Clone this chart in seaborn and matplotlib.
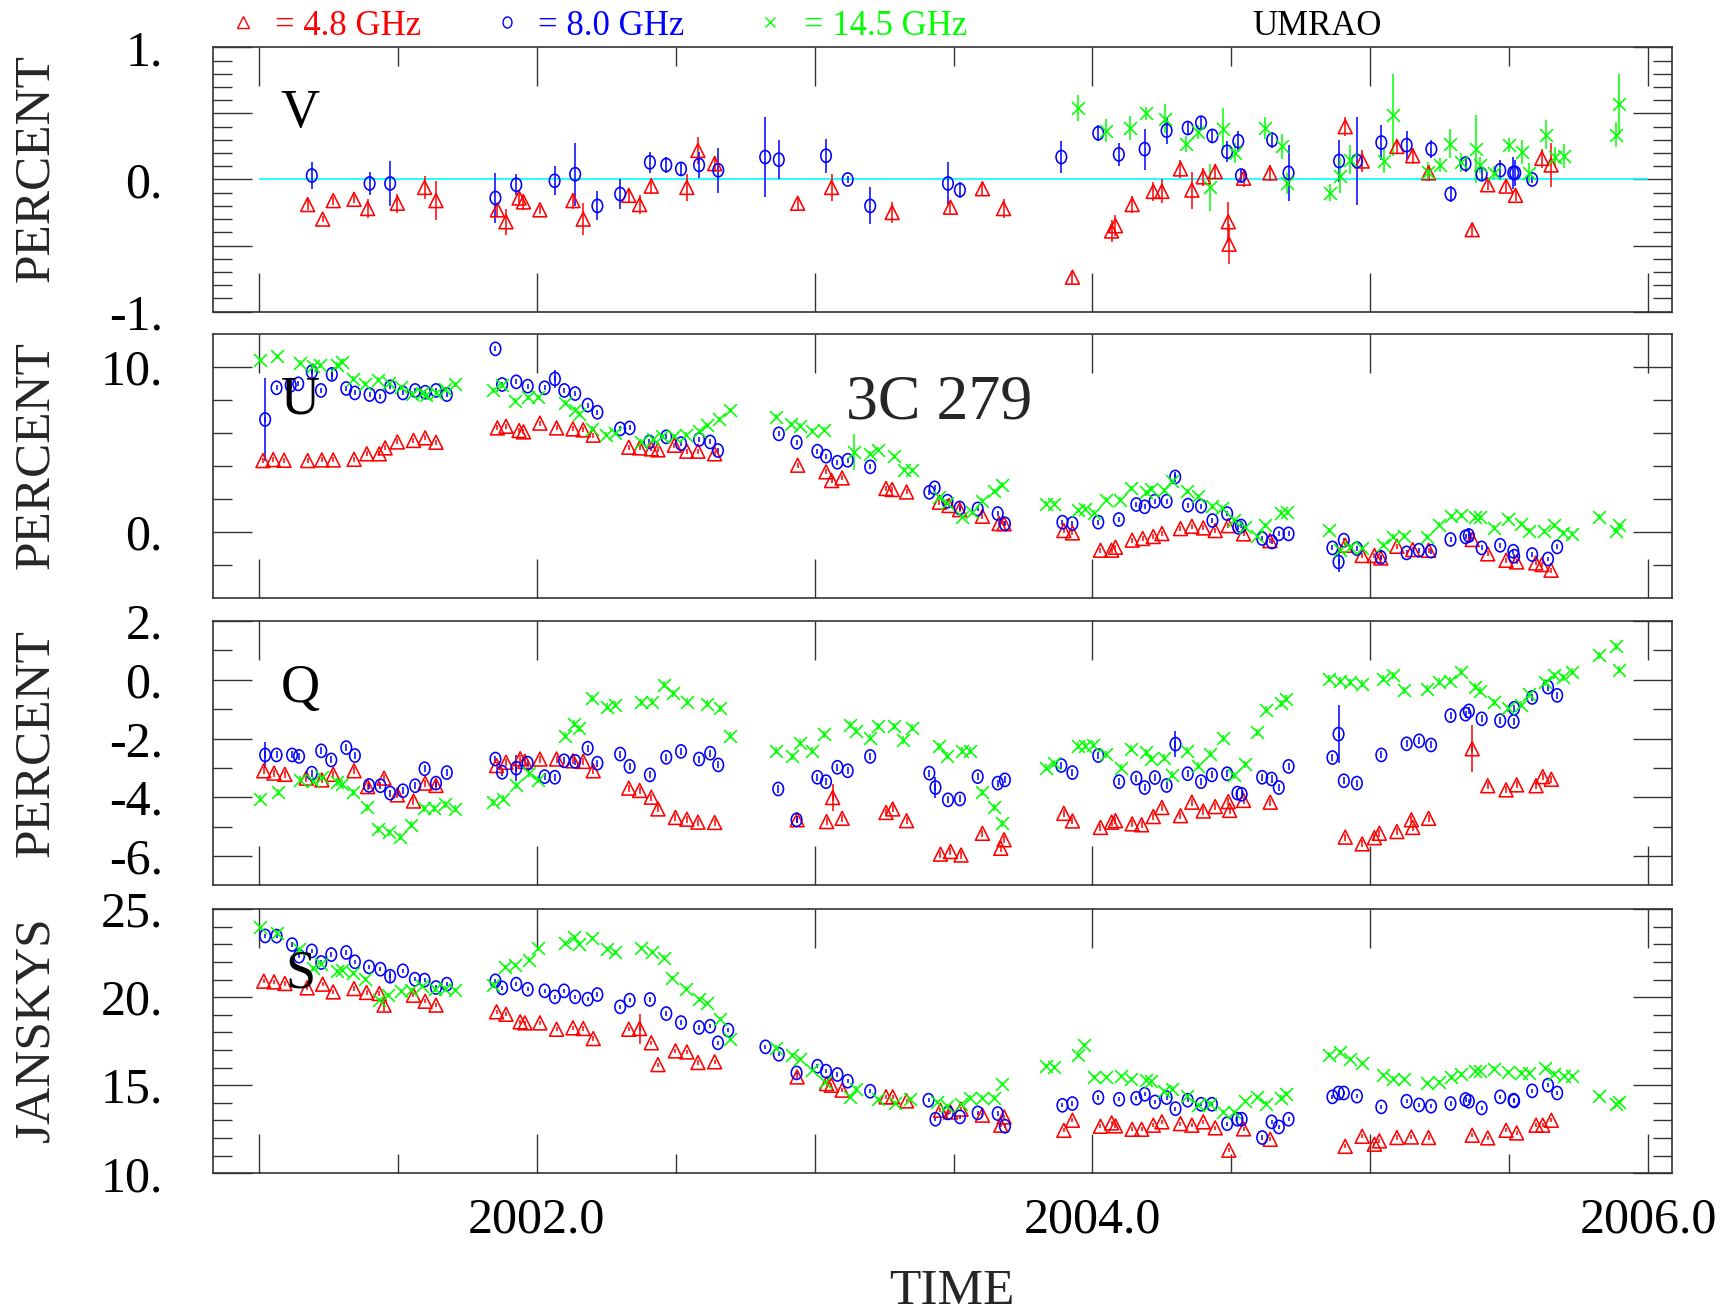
import numpy as np
import matplotlib
matplotlib.use('Agg')
import matplotlib.pyplot as plt
import seaborn as sns
from matplotlib.path import Path
from matplotlib.lines import Line2D
from matplotlib.ticker import FixedLocator, FixedFormatter, NullLocator

# ---------------- DATA (decimal year, value) ----------------
# V : circular polarization, percent
V_RED_T = [2001.175, 2001.229, 2001.267, 2001.342, 2001.391, 2001.498, 2001.596, 2001.637, 2001.858, 2001.889,
           2001.936, 2001.952, 2002.011, 2002.130, 2002.167, 2002.331, 2002.370, 2002.412, 2002.540, 2002.580,
           2002.640, 2002.939, 2003.061, 2003.279, 2003.489, 2003.604, 2003.680, 2003.928, 2004.069, 2004.083,
           2004.143, 2004.219, 2004.250, 2004.317, 2004.358, 2004.399, 2004.442, 2004.489, 2004.492, 2004.544,
           2004.639, 2004.910, 2004.971, 2005.096, 2005.153, 2005.210, 2005.367, 2005.423, 2005.489, 2005.523,
           2005.618, 2005.651]
V_RED = [-0.19, -0.30, -0.16, -0.15, -0.22, -0.18, -0.06, -0.16, -0.23, -0.32,
         -0.14, -0.17, -0.23, -0.16, -0.30, -0.12, -0.19, -0.05, -0.06, 0.22,
         0.12, -0.18, -0.06, -0.25, -0.21, -0.07, -0.22, -0.74, -0.39, -0.35,
         -0.19, -0.09, -0.09, 0.08, -0.08, 0.02, 0.06, -0.32, -0.49, 0.01,
         0.05, 0.40, 0.14, 0.25, 0.18, 0.05, -0.38, -0.04, -0.05, -0.12,
         0.16, 0.11]
V_RED_ERR = [0.04, 0.025, 0.03, 0.03, 0.07, 0.07, 0.09, 0.15, 0.05, 0.10,
             0.04, 0.06, 0.03, 0.06, 0.12, 0.05, 0.07, 0.06, 0.10, 0.10,
             0.06, 0.05, 0.10, 0.08, 0.05, 0.05, 0.07, 0.05, 0.08, 0.08,
             0.065, 0.07, 0.09, 0.07, 0.14, 0.07, 0.06, 0.15, 0.15, 0.07,
             0.06, 0.07, 0.08, 0.05, 0.06, 0.06, 0.05, 0.04, 0.045, 0.04,
             0.07, 0.17]
V_BLUE_T = [2001.190, 2001.398, 2001.472, 2001.851, 2001.926, 2002.064, 2002.138, 2002.218, 2002.300, 2002.407,
            2002.466, 2002.519, 2002.584, 2002.653, 2002.822, 2002.871, 2003.041, 2003.119, 2003.200,
            2003.480, 2003.523, 2003.888, 2004.021, 2004.095, 2004.188, 2004.267, 2004.343, 2004.391, 2004.432,
            2004.485, 2004.525, 2004.535, 2004.647, 2004.706, 2004.888, 2004.952, 2005.040, 2005.131, 2005.220,
            2005.289, 2005.343, 2005.401, 2005.468, 2005.515, 2005.522, 2005.583]
V_BLUE = [0.03, -0.03, -0.03, -0.14, -0.04, -0.01, 0.04, -0.20, -0.11, 0.13,
          0.11, 0.08, 0.11, 0.07, 0.17, 0.15, 0.18, 0.00, -0.20,
          -0.03, -0.08, 0.17, 0.35, 0.19, 0.23, 0.37, 0.39, 0.43, 0.33,
          0.21, 0.29, 0.03, 0.30, 0.05, 0.14, 0.14, 0.28, 0.26, 0.23,
          -0.11, 0.12, 0.04, 0.07, 0.05, 0.05, 0.00]
V_BLUE_ERR = [0.10, 0.09, 0.17, 0.19, 0.08, 0.11, 0.24, 0.11, 0.11, 0.08,
              0.06, 0.05, 0.10, 0.17, 0.30, 0.15, 0.13, 0.025, 0.14,
              0.16, 0.06, 0.12, 0.06, 0.085, 0.155, 0.10, 0.045, 0.05, 0.045,
              0.08, 0.08, 0.05, 0.06, 0.21, 0.16, 0.33, 0.13, 0.11, 0.07,
              0.06, 0.06, 0.055, 0.075, 0.12, 0.10, 0.03]
V_GREEN_T = [2003.948, 2004.050, 2004.136, 2004.194, 2004.260, 2004.337, 2004.380, 2004.425, 2004.470, 2004.515,
             2004.623, 2004.683, 2004.700, 2004.854, 2004.890, 2004.929, 2005.048, 2005.083, 2005.208, 2005.250,
             2005.287, 2005.325, 2005.379, 2005.396, 2005.446, 2005.499, 2005.546, 2005.571, 2005.633, 2005.666,
             2005.699, 2005.885, 2005.897]
V_GREEN = [0.54, 0.37, 0.39, 0.50, 0.46, 0.27, 0.36, -0.06, 0.38, 0.20,
           0.39, 0.25, -0.03, -0.10, 0.03, 0.15, 0.14, 0.49, 0.06, 0.11,
           0.27, 0.13, 0.23, 0.11, 0.05, 0.26, 0.21, 0.05, 0.34, 0.17,
           0.18, 0.34, 0.57]
V_GREEN_ERR = [0.10, 0.085, 0.09, 0.05, 0.11, 0.06, 0.05, 0.18, 0.16, 0.075,
               0.085, 0.095, 0.08, 0.065, 0.13, 0.11, 0.09, 0.31, 0.075, 0.055,
               0.11, 0.07, 0.26, 0.06, 0.05, 0.055, 0.09, 0.075, 0.11, 0.075,
               0.09, 0.095, 0.23]

# U : percent
U_RED_T = [2001.014, 2001.051, 2001.090, 2001.175, 2001.226, 2001.267, 2001.342, 2001.388, 2001.433, 2001.454,
           2001.498, 2001.556, 2001.598, 2001.637, 2001.858, 2001.889, 2001.936, 2001.952, 2002.011, 2002.071,
           2002.130, 2002.167, 2002.203, 2002.331, 2002.370, 2002.412, 2002.436, 2002.495, 2002.540, 2002.580,
           2002.640, 2002.939, 2003.041, 2003.061, 2003.099, 2003.257, 2003.279, 2003.331,
           2003.449, 2003.484, 2003.522, 2003.604, 2003.664, 2003.682, 2003.897, 2003.928,
           2004.029, 2004.069, 2004.083, 2004.143, 2004.181, 2004.219, 2004.250, 2004.317, 2004.358, 2004.399,
           2004.442, 2004.489, 2004.544, 2004.639, 2004.910, 2004.971,
           2005.015, 2005.038, 2005.096, 2005.153, 2005.210, 2005.367, 2005.423, 2005.489, 2005.527, 2005.596,
           2005.618, 2005.651]
U_RED = [4.34, 4.40, 4.36, 4.34, 4.38, 4.38, 4.42, 4.75, 4.75, 5.11,
         5.47, 5.56, 5.72, 5.45, 6.32, 6.42, 6.16, 6.08, 6.61, 6.32,
         6.26, 6.20, 5.88, 5.15, 5.11, 5.05, 4.99, 5.27, 4.91, 4.91,
         4.75, 4.06, 3.66, 3.13, 3.29, 2.65, 2.59, 2.44,
         1.82, 1.62, 1.37, 0.97, 0.53, 0.51, 0.10, -0.04,
         -1.09, -1.09, -0.91, -0.48, -0.38, -0.26, -0.08, 0.22, 0.36, 0.26,
         0.10, 0.40, -0.10, -0.51, -0.79, -1.41,
         -1.41, -1.56, -0.85, -1.05, -1.09, -0.44, -1.31, -1.70, -1.80, -1.86,
         -1.96, -2.30]
U_BLUE_T = [2001.022, 2001.063, 2001.114, 2001.141, 2001.190, 2001.223, 2001.262, 2001.314, 2001.345, 2001.398,
            2001.437, 2001.472, 2001.518, 2001.562, 2001.598, 2001.637, 2001.676, 2001.851, 2001.875, 2001.926,
            2001.967, 2002.028, 2002.065, 2002.099, 2002.138, 2002.183, 2002.218, 2002.300, 2002.334, 2002.405,
            2002.466, 2002.519, 2002.584, 2002.624, 2002.652, 2002.871, 2002.935, 2003.010, 2003.041, 2003.082,
            2003.119, 2003.200, 2003.413,
            2003.432, 2003.478, 2003.522, 2003.587, 2003.659, 2003.685, 2003.892, 2003.928, 2004.021, 2004.095,
            2004.158, 2004.188, 2004.224, 2004.267, 2004.298, 2004.344, 2004.391, 2004.432, 2004.485, 2004.525,
            2004.535, 2004.611, 2004.646, 2004.671, 2004.706, 2004.864, 2004.886, 2004.905, 2004.952, 2005.038,
            2005.131, 2005.175, 2005.219, 2005.289, 2005.343, 2005.355, 2005.401, 2005.468, 2005.515, 2005.518,
            2005.583, 2005.640, 2005.673]
U_BLUE = [6.83, 8.75, 8.91, 8.99, 9.72, 8.59, 9.56, 8.71, 8.44, 8.34,
          8.24, 8.81, 8.44, 8.59, 8.48, 8.59, 8.34, 11.11, 8.95, 9.11,
          8.85, 8.75, 9.29, 8.59, 8.40, 7.70, 7.27, 6.26, 6.32, 5.47,
          5.78, 5.37, 5.62, 5.47, 4.95, 5.96, 5.45, 4.91, 4.61, 4.24,
          4.36, 3.96, 2.42,
          2.69, 1.88, 1.47, 1.41, 1.13, 0.51, 0.61, 0.53, 0.61, 0.77,
          1.68, 1.54, 1.88, 1.88, 3.35, 1.64, 1.58, 0.71, 1.13, 0.30,
          0.38, -0.38, -0.59, -0.10, -0.10, -0.95, -1.80, -0.48, -0.99, -1.52,
          -1.25, -1.09, -1.15, -0.44, -0.28, -0.20, -0.95, -0.79, -1.15, -1.45,
          -1.35, -1.62, -0.89]
U_GREEN_T = [2001.005, 2001.065, 2001.148, 2001.195, 2001.221, 2001.280, 2001.297, 2001.340, 2001.382, 2001.430,
             2001.467, 2001.510, 2001.552, 2001.586, 2001.600, 2001.637, 2001.671, 2001.705, 2001.841, 2001.875,
             2001.923, 2001.969, 2002.003, 2002.101, 2002.138, 2002.150, 2002.198, 2002.249, 2002.283, 2002.376,
             2002.418, 2002.452, 2002.495, 2002.538, 2002.584, 2002.614, 2002.657, 2002.694, 2002.861, 2002.915,
             2002.946, 2002.991, 2003.034, 2003.141, 2003.200, 2003.229, 2003.285, 2003.323, 2003.349,
             2003.449, 2003.475, 2003.530, 2003.565, 2003.604, 2003.644, 2003.676, 2003.833, 2003.862, 2003.948,
             2003.974, 2004.005, 2004.048, 2004.100, 2004.138, 2004.194, 2004.212, 2004.258, 2004.287, 2004.339,
             2004.379, 2004.430, 2004.468, 2004.511, 2004.551, 2004.594, 2004.623, 2004.680, 2004.702, 2004.852,
             2004.890, 2004.929, 2004.969, 2005.045, 2005.081, 2005.122, 2005.205, 2005.248, 2005.289, 2005.327,
             2005.377, 2005.394, 2005.446, 2005.497, 2005.544, 2005.571, 2005.627, 2005.661, 2005.695, 2005.726,
             2005.824, 2005.885, 2005.897]
U_GREEN = [10.46, 10.67, 10.26, 10.10, 10.12, 10.16, 10.32, 9.29, 8.99, 9.25,
           9.05, 8.79, 8.40, 8.44, 8.30, 8.44, 8.65, 8.95, 8.61, 8.89,
           7.98, 8.18, 8.18, 7.84, 7.43, 7.17, 6.28, 5.92, 6.02, 5.47,
           5.62, 5.82, 5.82, 5.92, 6.12, 6.48, 6.83, 7.39, 6.99, 6.53,
           6.46, 6.16, 6.22, 4.85, 4.75, 5.01, 4.61, 3.80, 3.76,
           2.12, 1.78, 0.93, 1.21, 1.92, 2.48, 2.89, 1.74, 1.74, 1.33,
           1.43, 1.17, 1.98, 1.98, 2.65, 2.42, 2.63, 2.55, 3.09, 2.48,
           2.18, 1.58, 1.47, 0.77, 0.30, -0.24, 0.42, 1.17, 1.21, 0.12,
           -1.09, -0.89, -0.95, -0.75, -0.28, -0.20, -0.28, 0.46, 0.97, 1.03,
           0.91, 0.91, 0.26, 0.81, 0.51, 0.10, 0.06, 0.42, -0.04, -0.08,
           0.93, 0.10, 0.42]

# Q : percent
Q_RED_T = [2001.017, 2001.054, 2001.093, 2001.170, 2001.226, 2001.267, 2001.342, 2001.391, 2001.450, 2001.498,
           2001.556, 2001.598, 2001.637, 2001.855, 2001.889, 2001.940, 2001.957, 2002.011, 2002.071, 2002.130,
           2002.167, 2002.203, 2002.331, 2002.370, 2002.412, 2002.436, 2002.499, 2002.540, 2002.580, 2002.640,
           2002.937, 2003.043, 2003.065, 2003.099, 2003.257, 2003.281, 2003.331,
           2003.453, 2003.489, 2003.527, 2003.604, 2003.670, 2003.682, 2003.897, 2003.928, 2004.029, 2004.069,
           2004.083, 2004.143, 2004.177, 2004.219, 2004.250, 2004.317, 2004.358, 2004.399, 2004.442, 2004.489,
           2004.494, 2004.544, 2004.640, 2004.910, 2004.971, 2005.015, 2005.033, 2005.096, 2005.148, 2005.153,
           2005.210, 2005.367, 2005.423, 2005.489, 2005.527, 2005.597, 2005.621, 2005.652]
Q_RED = [-3.10, -3.18, -3.22, -3.35, -3.41, -3.22, -3.10, -3.64, -3.35, -3.92,
         -4.13, -3.52, -3.60, -2.92, -2.81, -2.69, -2.78, -2.70, -2.70, -2.76,
         -2.78, -3.10, -3.69, -3.77, -4.00, -4.40, -4.69, -4.75, -4.85, -4.86,
         -4.77, -4.83, -4.01, -4.72, -4.52, -4.40, -4.80,
         -5.94, -5.85, -5.97, -5.23, -5.74, -5.45, -4.55, -4.81, -5.03, -4.85,
         -4.80, -4.91, -4.94, -4.66, -4.35, -4.63, -4.17, -4.47, -4.32, -4.15,
         -4.45, -4.11, -4.17, -5.36, -5.59, -5.38, -5.23, -5.17, -4.77, -5.03,
         -4.72, -2.35, -3.61, -3.75, -3.58, -3.61, -3.30, -3.39]
Q_BLUE_T = [2001.022, 2001.063, 2001.119, 2001.144, 2001.190, 2001.224, 2001.260, 2001.314, 2001.345, 2001.396,
            2001.437, 2001.472, 2001.518, 2001.562, 2001.596, 2001.637, 2001.676, 2001.851, 2001.875, 2001.926,
            2001.967, 2002.028, 2002.065, 2002.098, 2002.138, 2002.183, 2002.218, 2002.300, 2002.334, 2002.407,
            2002.466, 2002.519, 2002.584, 2002.624, 2002.653, 2002.869, 2002.935, 2003.010, 2003.041, 2003.082,
            2003.119, 2003.200, 2003.413, 2003.435,
            2003.480, 2003.523, 2003.587, 2003.659, 2003.685, 2003.888, 2003.928, 2004.021, 2004.096, 2004.158,
            2004.188, 2004.225, 2004.267, 2004.299, 2004.343, 2004.391, 2004.430, 2004.485, 2004.522, 2004.537,
            2004.611, 2004.645, 2004.671, 2004.706, 2004.864, 2004.886, 2004.905, 2004.952, 2005.040, 2005.131,
            2005.176, 2005.219, 2005.289, 2005.343, 2005.355, 2005.401, 2005.468, 2005.516, 2005.518, 2005.583,
            2005.640, 2005.673]
Q_BLUE = [-2.56, -2.56, -2.56, -2.61, -3.18, -2.42, -2.73, -2.31, -2.58, -3.60,
          -3.61, -3.86, -3.78, -3.61, -3.03, -3.52, -3.16, -2.70, -3.15, -3.01,
          -2.84, -3.30, -3.32, -2.76, -2.78, -2.33, -2.84, -2.53, -2.95, -3.24,
          -2.64, -2.44, -2.70, -2.50, -2.90, -3.72, -4.77, -3.32, -3.47, -2.98,
          -3.10, -2.61, -3.18, -3.67,
          -4.09, -4.06, -3.30, -3.52, -3.41, -2.92, -3.16, -2.58, -3.47, -3.35,
          -3.67, -3.33, -3.60, -2.19, -3.20, -3.47, -3.24, -3.20, -3.86, -3.90,
          -3.32, -3.38, -3.67, -2.95, -2.65, -1.85, -3.44, -3.52, -2.56, -2.18,
          -2.08, -2.22, -1.22, -1.17, -1.06, -1.33, -1.39, -1.42, -0.97, -0.60,
          -0.25, -0.53]
Q_GREEN_T = [2001.005, 2001.068, 2001.148, 2001.195, 2001.226, 2001.280, 2001.297, 2001.340, 2001.387, 2001.430,
             2001.467, 2001.506, 2001.547, 2001.595, 2001.629, 2001.668, 2001.705, 2001.841, 2001.880, 2001.926,
             2001.972, 2002.003, 2002.101, 2002.135, 2002.152, 2002.198, 2002.253, 2002.283, 2002.376, 2002.413,
             2002.456, 2002.490, 2002.541, 2002.614, 2002.660, 2002.694, 2002.861, 2002.917, 2002.949, 2002.991,
             2003.034, 2003.127, 2003.149, 2003.200, 2003.229, 2003.285, 2003.319, 2003.349,
             2003.449, 2003.475, 2003.530, 2003.558, 2003.604, 2003.644, 2003.676, 2003.833, 2003.862, 2003.948,
             2003.974, 2004.003, 2004.048, 2004.103, 2004.138, 2004.194, 2004.212, 2004.258, 2004.287, 2004.339,
             2004.379, 2004.425, 2004.470, 2004.511, 2004.551, 2004.594, 2004.625, 2004.680, 2004.697, 2004.852,
             2004.890, 2004.929, 2004.969, 2005.045, 2005.081, 2005.122, 2005.205, 2005.248, 2005.286, 2005.325,
             2005.377, 2005.394, 2005.446, 2005.497, 2005.544, 2005.571, 2005.630, 2005.661, 2005.695, 2005.725,
             2005.824, 2005.885, 2005.897]
Q_GREEN = [-4.06, -3.83, -3.41, -3.44, -3.30, -3.49, -3.55, -3.83, -4.35, -5.09,
           -5.20, -5.34, -4.94, -4.38, -4.38, -4.24, -4.40, -4.17, -4.06, -3.60,
           -3.18, -3.41, -1.91, -1.50, -1.65, -0.63, -0.91, -0.85, -0.76, -0.74,
           -0.17, -0.45, -0.74, -0.82, -0.97, -1.91, -2.42, -2.61, -2.14, -2.42,
           -1.85, -1.53, -1.73, -1.97, -1.59, -1.59, -2.05, -1.63,
           -2.27, -2.58, -2.42, -2.42, -3.83, -4.35, -4.89, -2.99, -2.84, -2.24,
           -2.25, -2.22, -2.53, -2.99, -2.35, -2.47, -2.69, -2.65, -3.24, -2.42,
           -2.92, -2.52, -1.99, -3.26, -2.88, -1.78, -1.02, -0.80, -0.65, 0.03,
           -0.03, -0.08, -0.14, 0.03, 0.15, -0.36, -0.31, -0.06, -0.03, 0.28,
           -0.23, -0.38, -0.76, -0.97, -0.85, -0.49, -0.08, 0.15, 0.09, 0.28,
           0.83, 1.14, 0.34]

# S : flux density, Jy
S_RED_T = [2001.017, 2001.054, 2001.093, 2001.173, 2001.229, 2001.267, 2001.342, 2001.387, 2001.433, 2001.450,
           2001.556, 2001.598, 2001.637, 2001.855, 2001.889, 2001.940, 2001.957, 2002.011, 2002.071, 2002.130,
           2002.167, 2002.203, 2002.331, 2002.370, 2002.412, 2002.436, 2002.499, 2002.540, 2002.580, 2002.640,
           2002.937, 2003.043, 2003.060, 2003.099, 2003.257, 2003.281, 2003.331,
           2003.453, 2003.489, 2003.527, 2003.604, 2003.670, 2003.682, 2003.897, 2003.928, 2004.029, 2004.069,
           2004.083, 2004.143, 2004.177, 2004.219, 2004.250, 2004.317, 2004.358, 2004.399, 2004.442, 2004.491,
           2004.544, 2004.640, 2004.910, 2004.971, 2005.015, 2005.033, 2005.096, 2005.148, 2005.210, 2005.367,
           2005.423, 2005.489, 2005.527, 2005.597, 2005.621, 2005.652]
S_RED = [20.91, 20.87, 20.78, 20.53, 20.74, 20.30, 20.49, 20.27, 20.21, 19.55,
         20.11, 19.77, 19.55, 19.17, 19.03, 18.60, 18.54, 18.54, 18.18, 18.26,
         18.22, 17.65, 18.18, 18.22, 17.41, 16.17, 16.95, 16.89, 16.29, 16.33,
         15.47, 15.09, 15.00, 14.72, 14.34, 14.34, 14.11,
         13.58, 13.48, 13.64, 13.30, 12.73, 13.20, 12.44, 13.01, 12.67, 12.86,
         12.69, 12.50, 12.50, 12.73, 12.92, 12.82, 12.73, 12.92, 12.58, 11.31,
         12.52, 11.93, 11.53, 12.10, 11.65, 11.84, 12.03, 12.06, 12.03, 12.16,
         12.01, 12.44, 12.29, 12.73, 12.73, 13.01]
S_BLUE_T = [2001.022, 2001.063, 2001.119, 2001.144, 2001.190, 2001.224, 2001.260, 2001.314, 2001.345, 2001.396,
            2001.437, 2001.472, 2001.518, 2001.561, 2001.596, 2001.637, 2001.676, 2001.851, 2001.875, 2001.926,
            2001.967, 2002.028, 2002.065, 2002.098, 2002.138, 2002.183, 2002.218, 2002.300, 2002.334, 2002.407,
            2002.466, 2002.519, 2002.584, 2002.624, 2002.652, 2002.689, 2002.823, 2002.871, 2002.935, 2003.010,
            2003.041, 2003.082, 2003.119, 2003.200, 2003.410, 2003.435,
            2003.480, 2003.523, 2003.587, 2003.659, 2003.685, 2003.892, 2003.928, 2004.021, 2004.096, 2004.158,
            2004.188, 2004.225, 2004.267, 2004.299, 2004.343, 2004.391, 2004.430, 2004.485, 2004.522, 2004.537,
            2004.611, 2004.645, 2004.671, 2004.706, 2004.864, 2004.886, 2004.905, 2004.952, 2005.040, 2005.131,
            2005.176, 2005.219, 2005.289, 2005.343, 2005.355, 2005.401, 2005.468, 2005.516, 2005.518, 2005.583,
            2005.640, 2005.673]
S_BLUE = [23.48, 23.47, 22.99, 22.33, 22.63, 21.97, 22.42, 22.54, 22.01, 21.72,
          21.59, 21.19, 21.50, 21.02, 20.97, 20.55, 20.74, 20.93, 20.53, 20.74,
          20.45, 20.36, 20.02, 20.36, 20.02, 19.89, 20.15, 19.45, 19.83, 19.87,
          19.07, 18.56, 18.28, 18.35, 17.41, 18.13, 17.18, 16.76, 15.70, 16.08,
          15.80, 15.61, 15.23, 14.66, 14.15, 13.07,
          13.43, 13.20, 13.43, 13.39, 12.67, 13.86, 13.96, 14.30, 14.20, 14.26,
          14.49, 14.05, 14.30, 13.67, 14.15, 13.92, 13.92, 12.82, 13.07, 13.07,
          12.03, 12.92, 12.63, 13.07, 14.34, 14.56, 14.56, 14.38, 13.77, 14.09,
          13.88, 13.81, 13.96, 14.19, 14.09, 13.71, 14.34, 14.15, 14.11, 14.68,
          15.00, 14.56]
S_GREEN_T = [2001.005, 2001.065, 2001.144, 2001.195, 2001.224, 2001.280, 2001.297, 2001.340, 2001.382, 2001.433,
             2001.464, 2001.510, 2001.547, 2001.586, 2001.632, 2001.668, 2001.705, 2001.841, 2001.884, 2001.923,
             2001.972, 2002.003, 2002.101, 2002.135, 2002.152, 2002.198, 2002.253, 2002.283, 2002.376, 2002.413,
             2002.456, 2002.487, 2002.538, 2002.585, 2002.614, 2002.660, 2002.694, 2002.861, 2002.920, 2002.946,
             2002.991, 2003.039, 2003.127, 2003.149, 2003.229, 2003.289, 2003.345,
             2003.441, 2003.475, 2003.527, 2003.558, 2003.604, 2003.644, 2003.676, 2003.833, 2003.862, 2003.948,
             2003.971, 2004.005, 2004.048, 2004.103, 2004.138, 2004.194, 2004.212, 2004.258, 2004.287, 2004.339,
             2004.379, 2004.425, 2004.470, 2004.511, 2004.551, 2004.594, 2004.625, 2004.680, 2004.697, 2004.852,
             2004.890, 2004.929, 2004.969, 2005.045, 2005.081, 2005.122, 2005.205, 2005.248, 2005.289, 2005.327,
             2005.377, 2005.394, 2005.446, 2005.497, 2005.544, 2005.571, 2005.630, 2005.661, 2005.699, 2005.726,
             2005.824, 2005.885, 2005.897]
S_GREEN = [24.00, 23.67, 22.71, 21.63, 21.91, 21.50, 21.53, 21.38, 21.02, 19.83,
           20.11, 20.36, 20.40, 20.63, 20.44, 20.49, 20.40, 20.72, 21.72, 21.82,
           22.14, 22.77, 23.05, 23.43, 23.01, 23.37, 22.73, 22.54, 22.80, 22.58,
           22.25, 21.10, 20.49, 19.87, 19.68, 18.75, 17.65, 17.14, 16.70, 16.48,
           15.85, 15.19, 14.34, 14.81, 14.19, 14.00, 14.19,
           14.05, 13.81, 13.92, 14.30, 14.30, 14.30, 15.06, 16.10, 16.04, 16.74,
           17.27, 15.47, 15.47, 15.53, 15.34, 15.28, 15.25, 14.68, 14.81, 14.38,
           13.86, 13.96, 13.48, 13.48, 14.09, 14.34, 13.96, 14.30, 14.53, 16.74,
           16.86, 16.48, 16.27, 15.57, 15.38, 15.34, 15.13, 15.19, 15.44, 15.61,
           15.80, 15.80, 15.95, 15.76, 15.72, 15.72, 16.00, 15.66, 15.51, 15.53,
           14.38, 13.92, 14.05]

# typical (small) error half-widths for U, Q, S and the larger individual ones
U_ERR, Q_ERR, S_ERR = 0.15, 0.12, 0.12
U_BIG_BLUE = ([2001.022, 2001.190, 2001.262, 2002.065, 2004.298, 2004.886, 2005.355],
              [6.83, 9.72, 9.56, 9.29, 3.35, -1.80, -0.20], [2.5, 0.45, 0.35, 0.55, 0.3, 0.6, 0.45])
U_BIG_GREEN = ([2003.141], [4.85], [1.1])
Q_BIG_RED = ([2003.065, 2005.367], [-4.01, -2.35], [0.45, 0.8])
Q_BIG_BLUE = ([2001.022, 2001.926, 2003.435, 2004.299, 2004.886], [-2.56, -3.01, -3.67, -2.19, -1.85],
              [0.45, 0.45, 0.35, 0.45, 1.0])
S_BIG_RED = ([2001.450, 2002.370], [19.55, 18.22], [0.35, 0.85])
S_BIG_BLUE = ([2001.472], [21.19], [0.3])

YEAR_TICKS = [2001, 2002, 2003, 2004, 2005, 2006]
YEAR_LABELS = ['', '2002.0', '', '2004.0', '', '2006.0']
HALF_YEARS = [2001.5, 2002.5, 2003.5, 2004.5, 2005.5]
LEGEND_TEXT = ['= 4.8 GHz', '= 8.0 GHz', '= 14.5 GHz']

# ---------------- STYLE ----------------
sns.set_theme(style='white')
plt.rcParams['font.family'] = ['Liberation Serif', 'DejaVu Serif']
plt.rcParams['axes.unicode_minus'] = False

RED, BLUE, GREEN, CYAN = '#ff0000', '#0000ff', '#00ff00', '#00ffff'
FRAME = '#333333'
MLW = 1.15
circ = Path.unit_circle()
ELL = Path(circ.vertices * np.array([0.8, 1.0]), circ.codes)

fig = plt.figure(figsize=(17.26, 13.14), dpi=100)
L, W, H = 0.1232, 0.8453, 0.2010
bottoms = [0.7629, 0.5447, 0.3263, 0.1071]
axes = [fig.add_axes([L, b, W, H]) for b in bottoms]


def draw(ax, t, v, err, kind):
    col = {'r': RED, 'b': BLUE, 'g': GREEN}[kind]
    if err is not None:
        ax.errorbar(t, v, yerr=err, fmt='none', ecolor=col, elinewidth=1.1, capsize=0, zorder=2)
    if kind == 'r':
        sns.scatterplot(x=t, y=v, ax=ax, marker='^', s=100, facecolor='none', edgecolor=RED,
                        linewidth=MLW, zorder=3)
    elif kind == 'b':
        sns.scatterplot(x=t, y=v, ax=ax, marker=ELL, s=90, facecolor='none', edgecolor=BLUE,
                        linewidth=MLW, zorder=3)
    else:
        sns.scatterplot(x=t, y=v, ax=ax, marker='x', s=85, color=GREEN, linewidth=MLW, zorder=3)


def big(ax, data, col):
    ax.errorbar(data[0], data[1], yerr=data[2], fmt='none', ecolor=col, elinewidth=1.1, capsize=0, zorder=2)


axV, axU, axQ, axS = axes

axV.hlines(0, 2001.0, 2006.0, colors=CYAN, linewidth=1.2, zorder=1)
draw(axV, V_RED_T, V_RED, V_RED_ERR, 'r')
draw(axV, V_BLUE_T, V_BLUE, V_BLUE_ERR, 'b')
draw(axV, V_GREEN_T, V_GREEN, V_GREEN_ERR, 'g')

draw(axU, U_RED_T, U_RED, U_ERR, 'r')
draw(axU, U_BLUE_T, U_BLUE, U_ERR, 'b')
draw(axU, U_GREEN_T, U_GREEN, U_ERR, 'g')
big(axU, U_BIG_BLUE, BLUE)
big(axU, U_BIG_GREEN, GREEN)

draw(axQ, Q_RED_T, Q_RED, Q_ERR, 'r')
draw(axQ, Q_BLUE_T, Q_BLUE, Q_ERR, 'b')
draw(axQ, Q_GREEN_T, Q_GREEN, Q_ERR, 'g')
big(axQ, Q_BIG_RED, RED)
big(axQ, Q_BIG_BLUE, BLUE)

draw(axS, S_RED_T, S_RED, S_ERR, 'r')
draw(axS, S_BLUE_T, S_BLUE, S_ERR, 'b')
draw(axS, S_GREEN_T, S_GREEN, S_ERR, 'g')
big(axS, S_BIG_RED, RED)
big(axS, S_BIG_BLUE, BLUE)

ylims = [(-1, 1), (-4, 12), (-7, 2), (10, 25)]
ymaj = [[-1, -0.5, 0, 0.5, 1], [0, 10], [-6, -4, -2, 0, 2], [10, 15, 20, 25]]
ylab = [['-1.', '', '0.', '', '1.'], ['0.', '10.'], ['-6.', '-4.', '-2.', '0.', '2.'], ['10.', '15.', '20.', '25.']]
ymin = [[-0.9, -0.8, -0.7, -0.6, -0.4, -0.3, -0.2, -0.1, 0.1, 0.2, 0.3, 0.4, 0.6, 0.7, 0.8, 0.9],
        [-2, 2, 4, 6, 8],
        [-5, -3, -1, 1],
        [11, 12, 13, 14, 16, 17, 18, 19, 21, 22, 23, 24]]
letters = ['V', 'U', 'Q', 'S']
letter_y = [0.75, 0.748, 0.744, 0.754]

for i, ax in enumerate(axes):
    ax.set_xlim(2000.833, 2006.085)
    ax.set_ylim(*ylims[i])
    ax.set_xlabel('')
    ax.set_ylabel('')
    ax.xaxis.set_major_locator(FixedLocator(YEAR_TICKS))
    ax.xaxis.set_major_formatter(FixedFormatter(YEAR_LABELS))
    ax.yaxis.set_major_locator(FixedLocator(ymaj[i]))
    ax.yaxis.set_major_formatter(FixedFormatter(ylab[i]))
    ax.yaxis.set_minor_locator(FixedLocator(ymin[i]))
    if i == 0 or i == 3:
        ax.xaxis.set_minor_locator(FixedLocator(HALF_YEARS))
    else:
        ax.xaxis.set_minor_locator(NullLocator())
    ax.tick_params(axis='both', which='both', direction='in', colors=FRAME, width=1.0,
                   top=True, bottom=True, left=True, right=True, labelcolor='black')
    ax.tick_params(which='major', length=28)
    ax.tick_params(which='minor', length=14)
    ax.tick_params(axis='y', labelsize=36, pad=36)
    ax.tick_params(axis='x', labelsize=36, pad=17, labelbottom=(i == 3))
    if i == 0:
        ax.tick_params(axis='x', which='minor', top=True, bottom=False)
    if i == 3:
        ax.tick_params(axis='x', which='minor', top=False, bottom=True)
    for s in ax.spines.values():
        s.set_linewidth(1.2)
        s.set_color(FRAME)
    ax.text(0.06, letter_y[i], letters[i], transform=ax.transAxes, fontsize=39,
            ha='center', va='center', color='black')

axU.text(0.498, 0.736, '3C 279', transform=axU.transAxes, fontsize=46, ha='center', va='center')

# y-axis titles and x title
for yc, lab in zip([0.8721, 0.6537, 0.4346, 0.2169], ['PERCENT', 'PERCENT', 'PERCENT', 'JANSKYS']):
    fig.text(35.8 / 1726, yc, lab, rotation=90, ha='center', va='center', fontsize=37)
fig.text(952 / 1726, 0.0075, 'TIME', ha='center', va='baseline', fontsize=37)

# legend row at top
ly_txt = 1 - 35 / 1314
ly_sym = 1 - 22 / 1314
fig.add_artist(Line2D([243 / 1726], [ly_sym], transform=fig.transFigure, marker='^', ms=8,
                      mfc='none', mec=RED, mew=1.0, ls='none'))
fig.add_artist(Line2D([507 / 1726], [ly_sym], transform=fig.transFigure, marker=ELL, ms=8,
                      mfc='none', mec=BLUE, mew=1.0, ls='none'))
fig.add_artist(Line2D([770 / 1726], [ly_sym], transform=fig.transFigure, marker='x', ms=7,
                      mec=GREEN, mew=1.0, ls='none'))
for xt, txt, col in zip([275, 538, 804], LEGEND_TEXT, [RED, BLUE, GREEN]):
    fig.text(xt / 1726, ly_txt, txt, color=col, fontsize=25, ha='left', va='baseline')
fig.text(1252 / 1726, ly_txt, 'UMRAO', color='black', fontsize=25, ha='left', va='baseline')

fig.savefig('out.png', dpi=100)
